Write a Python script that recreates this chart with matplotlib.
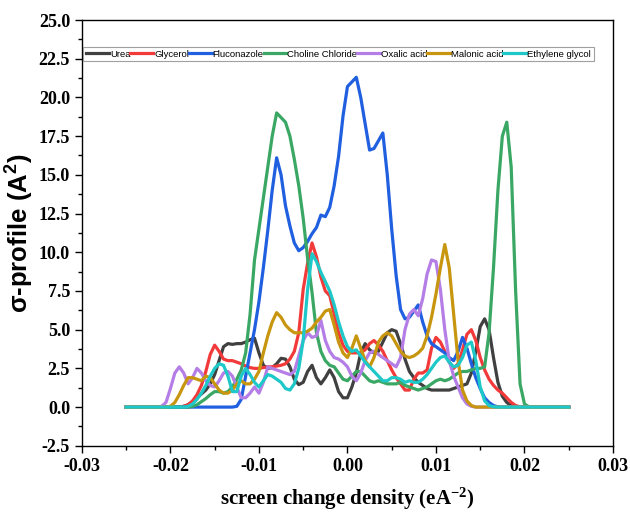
import numpy as np
import matplotlib
matplotlib.use('Agg')
import matplotlib.pyplot as plt
from matplotlib.ticker import MultipleLocator

# sigma grid, step 0.0005 from -0.025 to 0.025
sigma = np.round(np.arange(-0.025, 0.02501, 0.0005), 4)

urea = [0, 0, 0, 0, 0, 0, 0, 0, 0, 0,
        0, 0, 0, 0.05, 0.15, 0.35, 0.6, 0.85, 1.1, 1.5,
        2.1, 3.0, 3.9, 4.1, 4.05, 4.1, 4.1, 4.2, 4.35, 4.45,
        3.5, 2.7, 2.5, 2.55, 2.8, 3.15, 3.1, 2.6, 1.8, 1.45,
        1.6, 2.3, 2.7, 1.9, 1.5, 1.9, 2.4, 1.9, 1.0, 0.6,
        0.6, 1.3, 2.2, 3.5, 4.1, 3.7, 3.5, 3.6, 4.2, 4.8,
        5.0, 4.9, 4.1, 3.1, 2.3, 1.9, 1.6, 1.4, 1.2, 1.1,
        1.1, 1.1, 1.1, 1.1, 1.2, 1.3, 1.4, 1.5, 2.2, 3.6,
        5.2, 5.7, 5.0, 3.2, 1.6, 0.7, 0.3, 0.1, 0.02, 0,
        0, 0, 0, 0, 0, 0, 0, 0, 0, 0, 0]

glycerol = [0, 0, 0, 0, 0, 0, 0, 0, 0, 0,
            0, 0, 0, 0.05, 0.15, 0.4, 0.8, 1.4, 2.3, 3.4,
            4.0, 3.6, 3.1, 3.0, 3.0, 2.9, 2.8, 2.65, 2.55, 2.5,
            2.5, 2.55, 2.6, 2.6, 2.65, 2.7, 2.8, 3.1, 3.6, 4.8,
            7.6, 9.3, 10.6, 9.7, 8.4, 7.5, 7.2, 6.0, 4.8, 4.0,
            3.6, 3.5, 3.5, 3.5, 3.7, 4.1, 4.3, 4.0, 3.6, 3.0,
            2.4, 1.9, 1.5, 1.1, 1.1, 1.8, 2.2, 2.2, 2.4, 3.8,
            4.5, 4.2, 3.6, 2.9, 2.5, 2.8, 3.7, 4.7, 5.0, 4.3,
            3.2, 2.4, 1.8, 1.4, 1.1, 0.9, 0.6, 0.3, 0.1, 0.02,
            0, 0, 0, 0, 0, 0, 0, 0, 0, 0, 0]

fluconazole = [0, 0, 0, 0, 0, 0, 0, 0, 0, 0,
               0, 0, 0, 0, 0, 0, 0, 0, 0, 0,
               0, 0, 0, 0, 0, 0.05, 0.5, 2.0, 3.5, 5.0,
               6.8, 9.0, 11.4, 14.0, 16.1, 15.0, 13.0, 11.7, 10.6, 10.1,
               10.3, 10.7, 11.2, 11.6, 12.4, 12.3, 12.9, 14.3, 16.2, 18.8,
               20.7, 21.0, 21.3, 20.0, 18.3, 16.6, 16.7, 17.2, 17.7, 15.0,
               11.5, 8.5, 6.3, 5.7, 5.8, 6.2, 6.6, 5.5, 4.6, 4.1,
               3.9, 3.7, 3.5, 3.2, 3.0, 3.6, 4.5, 3.8, 2.8, 1.9,
               1.2, 0.6, 0.3, 0.1, 0.02, 0, 0, 0, 0, 0,
               0, 0, 0, 0, 0, 0, 0, 0, 0, 0, 0]

choline = [0, 0, 0, 0, 0, 0, 0, 0, 0, 0,
           0, 0, 0, 0, 0, 0.05, 0.15, 0.35, 0.55, 0.8,
           1.0, 1.0, 0.9, 1.0, 1.3, 1.8, 2.4, 3.5, 6.0, 9.5,
           11.5, 13.5, 15.5, 17.5, 19.0, 18.7, 18.4, 17.5, 16.0, 14.3,
           12.2, 9.6, 7.4, 4.8, 3.6, 3.0, 2.7, 2.6, 2.2, 1.8,
           1.7, 2.0, 2.3, 2.3, 2.0, 1.7, 1.6, 1.7, 1.6, 1.5,
           1.5, 1.5, 1.6, 1.4, 1.3, 1.2, 1.1, 1.2, 1.3, 1.5,
           1.7, 1.8, 1.7, 1.8, 2.0, 2.2, 2.3, 2.3, 2.4, 2.5,
           2.5, 2.6, 4.8, 9.0, 14.0, 17.5, 18.4, 15.5, 7.5, 1.5,
           0.2, 0.02, 0, 0, 0, 0, 0, 0, 0, 0, 0]

oxalic = [0, 0, 0, 0, 0, 0, 0, 0, 0.05, 0.3,
          1.2, 2.2, 2.6, 2.2, 1.5, 1.9, 2.5, 2.2, 1.7, 1.4,
          1.3, 1.7, 2.2, 2.3, 2.0, 1.3, 0.6, 0.6, 0.9, 1.3,
          0.9, 1.6, 2.6, 2.5, 2.4, 2.3, 2.2, 2.1, 2.3, 3.3,
          4.3, 4.8, 4.5, 4.6, 5.6, 4.3, 3.6, 3.2, 3.1, 2.9,
          2.6, 2.0, 1.7, 2.2, 3.0, 3.5, 3.6, 3.4, 3.2, 3.0,
          2.8, 2.6, 3.2, 5.0, 6.0, 6.3, 5.9, 7.0, 8.6, 9.5,
          9.4, 7.6, 5.0, 3.0, 2.0, 1.3, 0.6, 0.2, 0.05, 0,
          0, 0, 0, 0, 0, 0, 0, 0, 0, 0,
          0, 0, 0, 0, 0, 0, 0, 0, 0, 0, 0]

malonic = [0, 0, 0, 0, 0, 0, 0, 0, 0, 0,
           0.05, 0.3, 0.8, 1.4, 1.9, 1.9, 1.8, 1.7, 2.0, 1.9,
           1.5, 1.1, 0.9, 0.9, 1.1, 1.5, 1.7, 1.5, 1.5, 1.8,
           2.3, 3.5, 4.6, 5.5, 6.1, 5.8, 5.3, 5.0, 4.8, 4.8,
           4.8, 4.9, 5.1, 5.5, 5.8, 6.2, 6.3, 5.3, 4.2, 3.5,
           3.2, 3.8, 4.6, 3.8, 3.0, 2.6, 3.2, 4.2, 4.6, 4.8,
           4.6, 4.1, 3.6, 3.3, 3.2, 3.3, 3.5, 3.8, 4.6, 5.8,
           7.3, 9.0, 10.5, 9.0, 6.0, 3.0, 1.1, 0.4, 0.1, 0,
           0, 0, 0, 0, 0, 0, 0, 0, 0, 0,
           0, 0, 0, 0, 0, 0, 0, 0, 0, 0, 0]

ethylene = [0, 0, 0, 0, 0, 0, 0, 0, 0, 0,
            0, 0, 0, 0, 0.05, 0.2, 0.5, 0.9, 1.4, 2.0,
            2.5, 2.8, 2.7, 2.0, 1.0, 1.0, 2.0, 2.5, 2.1, 1.6,
            1.3, 1.7, 2.1, 2.0, 1.8, 1.6, 1.2, 1.1, 1.5, 2.5,
            4.3, 7.6, 9.9, 9.4, 8.7, 8.1, 7.5, 6.6, 5.5, 4.6,
            3.9, 3.6, 3.7, 3.3, 2.9, 2.6, 2.3, 2.0, 1.7, 1.7,
            1.9, 1.9, 1.8, 1.6, 1.7, 1.6, 1.6, 1.8, 2.1, 2.5,
            2.9, 3.2, 3.3, 2.9, 2.6, 2.7, 3.2, 4.0, 4.2, 3.0,
            1.3, 0.4, 0.1, 0.02, 0, 0, 0, 0, 0, 0,
            0, 0, 0, 0, 0, 0, 0, 0, 0, 0, 0]

names = ['Urea', 'Glycerol', 'Fluconazole', 'Choline Chloride',
         'Oxalic acid', 'Malonic acid', 'Ethylene glycol']
series = [urea, glycerol, fluconazole, choline, oxalic, malonic, ethylene]
colors = ['#404040', '#f23a3a', '#1f5fe0', '#3aa864', '#b47ee6', '#c8960e', '#1ec8c8']

plt.rcParams['mathtext.default'] = 'regular'

fig = plt.figure(figsize=(6.3, 5.13), dpi=100)
ax = fig.add_axes([0.130, 0.131, 0.843, 0.830])

for vals, name, c in zip(series, names, colors):
    ax.plot(sigma, vals, color=c, lw=2.3, label=name)

ax.set_xlim(-0.03, 0.03)
ax.set_ylim(-2.5, 25)
ax.xaxis.set_major_locator(MultipleLocator(0.01))
ax.xaxis.set_minor_locator(MultipleLocator(0.005))
ax.yaxis.set_major_locator(MultipleLocator(2.5))
ax.yaxis.set_minor_locator(MultipleLocator(1.25))
ax.tick_params(which='both', direction='out', width=1.0, top=False, right=False)
ax.tick_params(which='major', length=5)
ax.tick_params(which='minor', length=3)
for s in ax.spines.values():
    s.set_linewidth(1.0)

ax.set_xticklabels(['%.2f' % v for v in ax.get_xticks()])
ax.set_yticklabels(['%.1f' % v for v in ax.get_yticks()])
for lab in ax.get_xticklabels() + ax.get_yticklabels():
    lab.set_fontfamily('Liberation Serif')
    lab.set_fontweight('bold')
    lab.set_fontsize(13)

ax.set_ylabel('σ-profile (A$^2$)', fontfamily='Liberation Sans', fontweight='bold', fontsize=18.5, labelpad=2)
ax.set_xlabel('screen change density (eA$^{-2}$)', fontfamily='Liberation Serif', fontweight='bold', fontsize=15, labelpad=8)

leg = ax.legend(loc='upper left', bbox_to_anchor=(0.003, 0.937), ncol=7, frameon=True, fancybox=False,
                prop={'family': 'Liberation Sans', 'size': 6.8}, handlelength=2.4, handletextpad=0.1,
                columnspacing=0.0, borderpad=0.3, borderaxespad=0.0)
leg.get_frame().set_edgecolor('#888888')
leg.get_frame().set_linewidth(0.8)

fig.savefig('out.png', dpi=100)
